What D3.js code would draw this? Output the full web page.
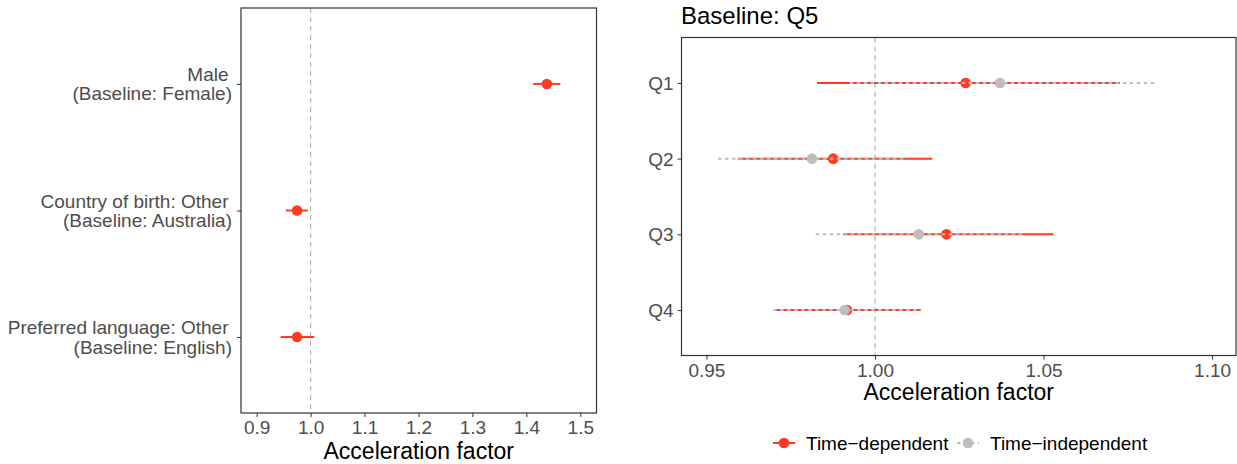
<!DOCTYPE html>
<meta charset="utf-8">
<style>
  html, body { margin: 0; padding: 0; background: #fff; }
  svg text { font-family: "Liberation Sans", Arial, Helvetica, sans-serif; }
</style>
<body>
<svg id="chart" width="1237" height="464"></svg>
<script src="https://cdnjs.cloudflare.com/ajax/libs/d3/7.8.5/d3.min.js"></script>
<script>
  // left panel data
  var leftLabels = [["Male", "(Baseline: Female)"],
                    ["Country of birth: Other", "(Baseline: Australia)"],
                    ["Preferred language: Other", "(Baseline: English)"]];
  var leftEst = [1.438, 0.975, 0.975];
  var leftLo = [1.413, 0.954, 0.9445];
  var leftHi = [1.463, 0.995, 1.007];
  var leftTicks = [0.9, 1.0, 1.1, 1.2, 1.3, 1.4, 1.5];

  // right panel data
  var quintiles = ["Q1", "Q2", "Q3", "Q4"];
  var depEst = [1.0269, 0.9876, 1.0212, 0.9917];
  var depLo = [0.9828, 0.9594, 0.9905, 0.9706];
  var depHi = [1.0727, 1.0170, 1.0529, 1.0136];
  var indEst = [1.0371, 0.9813, 1.0130, 0.9910];
  var indLo = [0.9925, 0.9534, 0.9824, 0.9698];
  var indHi = [1.0834, 1.0094, 1.0440, 1.0135];
  var rightTicks = [0.95, 1.00, 1.05, 1.10];
  var seriesNames = ["Time\u2212dependent", "Time\u2212independent"];

  var RED = "#FF3A22", GREY = "#BEBEBE", BORDER = "#333333", TXT = "#4D4D4D";
  var svg = d3.select("#chart");

  function panel(o) {
    var g = svg.append("g");
    var x = d3.scaleLinear().domain(o.xdom).range([o.left, o.right]);
    var y = d3.scalePoint().domain(o.cats).range([o.top, o.bottom]).padding(0.6);

    // reference line at 1
    g.append("line")
      .attr("x1", x(1)).attr("x2", x(1))
      .attr("y1", o.top).attr("y2", o.bottom)
      .attr("stroke", "#B3B3B3").attr("stroke-width", 1.2)
      .attr("stroke-dasharray", "5,4");

    // x axis
    var xa = g.append("g")
      .attr("transform", "translate(0," + o.bottom + ")")
      .call(d3.axisBottom(x).tickValues(o.ticks).tickSize(4).tickPadding(4)
        .tickFormat(d3.format(o.fmt)));
    xa.select(".domain").remove();
    xa.selectAll("line").attr("stroke", BORDER).attr("stroke-width", 1);
    xa.selectAll("text").attr("fill", TXT).style("font-size", "19px")
      .style("font-family", '"Liberation Sans", Arial, sans-serif');

    // y ticks
    var ya = g.append("g")
      .attr("transform", "translate(" + o.left + ",0)")
      .call(d3.axisLeft(y).tickSize(4).tickFormat(""));
    ya.select(".domain").remove();
    ya.selectAll("line").attr("stroke", BORDER).attr("stroke-width", 1);

    g.append("text")
      .attr("x", (o.left + o.right) / 2).attr("y", o.titleY)
      .attr("text-anchor", "middle").attr("fill", "#000")
      .style("font-size", "23px").text("Acceleration factor");

    return {g: g, x: x, y: y};
  }

  // ---- left panel ----
  var L = panel({left: 241, right: 596.5, top: 8, bottom: 413,
                 xdom: [0.871, 1.530], cats: leftLabels.map(function (d, i) { return i; }),
                 ticks: leftTicks, fmt: ".1f", titleY: 458.5});

  leftLabels.forEach(function (lab, i) {
    var t = L.g.append("text")
      .attr("text-anchor", "end").attr("fill", TXT).style("font-size", "19px");
    t.append("tspan").attr("x", 228.5).attr("y", L.y(i) - 2.7).text(lab[0]);
    t.append("tspan").attr("x", 232).attr("y", L.y(i) + 16.5).text(lab[1]);
  });

  L.g.selectAll(".ci").data(leftEst).enter().append("line")
    .attr("x1", function (d, i) { return L.x(leftLo[i]); })
    .attr("x2", function (d, i) { return L.x(leftHi[i]); })
    .attr("y1", function (d, i) { return L.y(i); })
    .attr("y2", function (d, i) { return L.y(i); })
    .attr("stroke", RED).attr("stroke-width", 2);
  L.g.selectAll(".pt").data(leftEst).enter().append("circle")
    .attr("cx", function (d) { return L.x(d); })
    .attr("cy", function (d, i) { return L.y(i); })
    .attr("r", 5.3).attr("fill", RED);

  L.g.append("rect").attr("x", 241).attr("y", 8).attr("width", 355.5).attr("height", 405)
    .attr("fill", "none").attr("stroke", BORDER).attr("stroke-width", 1.2);

  // ---- right panel ----
  var R = panel({left: 681.5, right: 1236, top: 37.5, bottom: 355.5,
                 xdom: [0.9426, 1.1071], cats: quintiles,
                 ticks: rightTicks, fmt: ".2f", titleY: 400});

  R.g.selectAll(".ql").data(quintiles).enter().append("text")
    .attr("x", 673.5).attr("y", function (d) { return R.y(d) + 7; })
    .attr("text-anchor", "end").attr("fill", TXT).style("font-size", "19px")
    .text(function (d) { return d; });

  R.g.append("text").attr("x", 681).attr("y", 23.5).attr("fill", "#000")
    .style("font-size", "24px").text("Baseline: Q5");

  // time-dependent: solid red
  R.g.selectAll(".dci").data(quintiles).enter().append("line")
    .attr("x1", function (d, i) { return R.x(depLo[i]); })
    .attr("x2", function (d, i) { return R.x(depHi[i]); })
    .attr("y1", function (d) { return R.y(d); })
    .attr("y2", function (d) { return R.y(d); })
    .attr("stroke", RED).attr("stroke-width", 2);
  R.g.selectAll(".dpt").data(quintiles).enter().append("circle")
    .attr("cx", function (d, i) { return R.x(depEst[i]); })
    .attr("cy", function (d) { return R.y(d); })
    .attr("r", 5.3).attr("fill", RED);

  // time-independent: dotted grey
  R.g.selectAll(".ici").data(quintiles).enter().append("line")
    .attr("x1", function (d, i) { return R.x(indLo[i]); })
    .attr("x2", function (d, i) { return R.x(indHi[i]); })
    .attr("y1", function (d) { return R.y(d); })
    .attr("y2", function (d) { return R.y(d); })
    .attr("stroke", GREY).attr("stroke-width", 2)
    .attr("stroke-dasharray", "3.5,3.5");
  R.g.selectAll(".ipt").data(quintiles).enter().append("circle")
    .attr("cx", function (d, i) { return R.x(indEst[i]); })
    .attr("cy", function (d) { return R.y(d); })
    .attr("r", 5.3).attr("fill", GREY);

  R.g.append("rect").attr("x", 681.5).attr("y", 37.5).attr("width", 554.5).attr("height", 318)
    .attr("fill", "none").attr("stroke", BORDER).attr("stroke-width", 1.2);

  // ---- legend ----
  var leg = svg.append("g");
  var keyX = [773, 957], txtX = [806, 990], cols = [RED, GREY], dash = [null, "3.5,3.5"];
  seriesNames.forEach(function (name, i) {
    leg.append("line").attr("x1", keyX[i]).attr("x2", keyX[i] + 22)
      .attr("y1", 443).attr("y2", 443)
      .attr("stroke", cols[i]).attr("stroke-width", 2).attr("stroke-dasharray", dash[i]);
    leg.append("circle").attr("cx", keyX[i] + 11).attr("cy", 443).attr("r", 5.3).attr("fill", cols[i]);
    leg.append("text").attr("x", txtX[i]).attr("y", 450).attr("fill", "#000")
      .style("font-size", "19px").text(name);
  });
</script>
</body>
